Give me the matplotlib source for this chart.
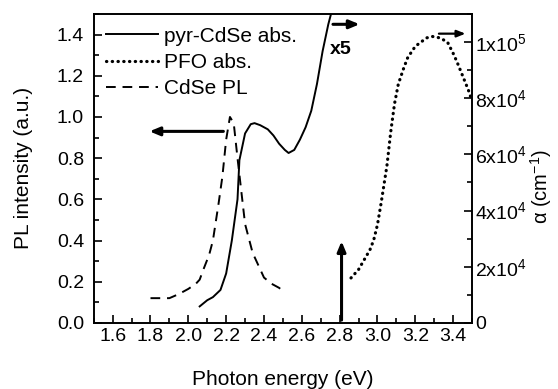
import numpy as np
import matplotlib.pyplot as plt
from matplotlib.ticker import MultipleLocator, FixedLocator, FixedFormatter

plt.rcParams['font.family'] = ['Liberation Sans', 'DejaVu Sans']
plt.rcParams['mathtext.fontset'] = 'custom'
plt.rcParams['mathtext.rm'] = 'Liberation Sans'
plt.rcParams['mathtext.it'] = 'Liberation Sans'

# pyr-CdSe absorption (left axis scale)
abs_e = [2.06, 2.10, 2.13, 2.17, 2.20, 2.23, 2.26, 2.27, 2.30, 2.33, 2.35, 2.38,
         2.42, 2.45, 2.48, 2.51, 2.53, 2.56, 2.59, 2.62, 2.65, 2.68, 2.71, 2.74, 2.76]
abs_v = [0.08, 0.11, 0.125, 0.16, 0.24, 0.40, 0.60, 0.79, 0.92, 0.965, 0.97, 0.96,
         0.94, 0.91, 0.87, 0.84, 0.825, 0.84, 0.89, 0.95, 1.03, 1.16, 1.32, 1.45, 1.52]

# CdSe PL
pl_e = [1.80, 1.85, 1.90, 1.95, 2.00, 2.04, 2.06, 2.08, 2.11, 2.13, 2.16, 2.18,
        2.20, 2.22, 2.24, 2.26, 2.28, 2.30, 2.34, 2.40, 2.44, 2.48, 2.50]
pl_v = [0.12, 0.12, 0.12, 0.14, 0.165, 0.19, 0.21, 0.26, 0.33, 0.40, 0.58, 0.71,
        0.89, 1.00, 0.97, 0.80, 0.64, 0.48, 0.34, 0.22, 0.19, 0.17, 0.155]

# PFO absorption (right axis, cm^-1)
pfo_e = [2.86, 2.90, 2.93, 2.96, 2.98, 3.00, 3.02, 3.05, 3.07, 3.09, 3.11, 3.14,
         3.16, 3.20, 3.23, 3.26, 3.29, 3.33, 3.37, 3.40, 3.42, 3.45, 3.48, 3.50]
pfo_v = [1.6e4, 1.9e4, 2.25e4, 2.6e4, 2.95e4, 3.5e4, 4.3e4, 5.6e4, 6.8e4, 7.8e4, 8.5e4, 9.1e4,
         9.45e4, 9.85e4, 1.0e5, 1.015e5, 1.02e5, 1.015e5, 1.0e5, 9.6e4, 9.3e4, 8.8e4, 8.3e4, 7.9e4]

left_ticks = [0.0, 0.2, 0.4, 0.6, 0.8, 1.0, 1.2, 1.4]
x_ticks = [1.6, 1.8, 2.0, 2.2, 2.4, 2.6, 2.8, 3.0, 3.2, 3.4]
right_ticks = [0, 2e4, 4e4, 6e4, 8e4, 1e5]
right_labels = ['0', r'2x10$^4$', r'4x10$^4$', r'6x10$^4$', r'8x10$^4$', r'1x10$^5$']

fig = plt.figure(figsize=(5.58, 3.89), dpi=100)
ax = fig.add_axes([0.168, 0.170, 0.678, 0.794])
ax2 = ax.twinx()

l1, = ax.plot(abs_e, abs_v, color='black', lw=1.4, label='pyr-CdSe abs.')
l3, = ax.plot(pl_e, pl_v, color='black', lw=1.4, ls=(0, (5, 3.5)), label='CdSe PL')
l2, = ax2.plot(pfo_e, pfo_v, color='black', lw=2.3, ls=(0, (0.1, 1.7)),
               dash_capstyle='round', label='PFO abs.')

ax.set_xlim(1.5, 3.5)
ax.set_ylim(0, 1.5)
ax2.set_ylim(0, 1.1e5)

ax.xaxis.set_major_locator(FixedLocator(x_ticks))
ax.xaxis.set_minor_locator(MultipleLocator(0.1))
ax.yaxis.set_major_locator(FixedLocator(left_ticks))
ax.yaxis.set_minor_locator(MultipleLocator(0.1))
ax.set_xticklabels(['%.1f' % t for t in x_ticks])
ax.set_yticklabels(['%.1f' % t for t in left_ticks])
ax2.yaxis.set_major_locator(FixedLocator(right_ticks))
ax2.yaxis.set_major_formatter(FixedFormatter(right_labels))
ax2.yaxis.set_minor_locator(MultipleLocator(1e4))

for a in (ax, ax2):
    a.tick_params(which='both', direction='in', labelsize=14, width=1.2)
    a.tick_params(which='major', length=6)
    a.tick_params(which='minor', length=3.5)
    for s in a.spines.values():
        s.set_linewidth(1.2)
ax.tick_params(axis='x', pad=4)
ax.tick_params(axis='y', pad=7)
ax2.tick_params(axis='y', pad=2)

ax.set_xlabel('Photon energy (eV)', fontsize=15, labelpad=18)
ax.set_ylabel('PL intensity (a.u.)', fontsize=15, labelpad=17)
ax2.set_ylabel(r'$\alpha$ (cm$^{-1}$)', fontsize=14.5, va='center')
ax2.yaxis.set_label_coords(1.183, 0.44)

arrow = dict(arrowstyle='-|>,head_length=0.6,head_width=0.25', color='black', lw=2.2)
ax.annotate('', xy=(1.78, 0.93), xytext=(2.20, 0.93), arrowprops=arrow)
ax.annotate('', xy=(2.92, 1.45), xytext=(2.75, 1.45), arrowprops=arrow)
ax.annotate('', xy=(2.81, 0.41), xytext=(2.81, 0.0), arrowprops=arrow)
ax2.annotate('', xy=(3.48, 1.03e5), xytext=(3.31, 1.03e5),
             arrowprops=dict(arrowstyle='-|>,head_length=0.5,head_width=0.2', color='black', lw=1.6))
ax.text(2.75, 1.33, 'x5', fontsize=14, fontweight='bold', ha='left', va='center')

ax.legend(handles=[l1, l2, l3], loc='upper left', frameon=False, fontsize=15,
          handlelength=2.5, handletextpad=0.25, labelspacing=0.35,
          borderaxespad=0.4, borderpad=0.2)

fig.savefig('out.png', dpi=100)
